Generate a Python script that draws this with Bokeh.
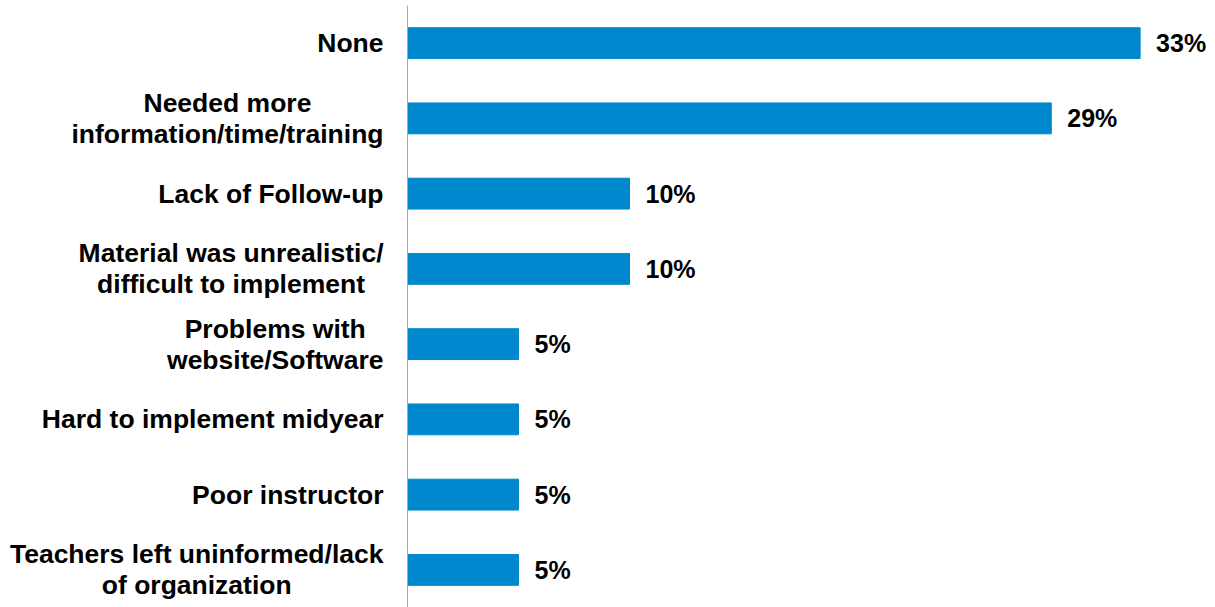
from bokeh.plotting import figure
from bokeh.models import ColumnDataSource, Range1d, FactorRange, Span
from bokeh.core.properties import value
from bokeh.embed import file_html
from bokeh.resources import INLINE

categories = [
    "None",
    "Needed more\ninformation/time/training",
    "Lack of Follow-up",
    "Material was unrealistic/\ndifficult to implement",
    "Problems with\nwebsite/Software",
    "Hard to implement midyear",
    "Poor instructor",
    "Teachers left uninformed/lack\nof organization",
]
values = [33, 29, 10, 10, 5, 5, 5, 5]
value_labels = [f"{v}%" for v in values]

source = ColumnDataSource(dict(cat=categories, val=values, lab=value_labels,
                               zero=[0] * len(values)))

PX_PER_UNIT = 22.2
AXIS_PX = 407
W, H = 1215, 607

p = figure(
    y_range=FactorRange(factors=categories[::-1]),
    x_range=Range1d(-AXIS_PX / PX_PER_UNIT, (W - AXIS_PX) / PX_PER_UNIT),
    frame_width=W, frame_height=H - 5,
    min_border_left=0, min_border_right=0, min_border_top=5, min_border_bottom=0,
    output_backend="svg", toolbar_location=None,
    x_axis_type=None, y_axis_type=None,
)
p.outline_line_color = None
p.background_fill_color = "white"
p.border_fill_color = "white"
p.grid.visible = False

p.add_layout(Span(location=0, dimension="height", line_color="#A6A6A6", line_width=1))

p.hbar(y="cat", right="val", left=0, height=0.41, source=source,
       fill_color="#0088CE", line_color="#0088CE")

p.text(x="val", y="cat", text="lab", source=source, x_offset=16,
       text_align="left", text_baseline="middle",
       text_font=value("Liberation Sans"), text_font_style="bold",
       text_font_size="25px", text_color="#000000")

p.text(x="zero", y="cat", text="cat", source=source, x_offset=-24,
       anchor="center_right", text_align="center", text_baseline="middle",
       text_line_height=1.03,
       text_font=value("Liberation Sans"), text_font_style="bold",
       text_font_size="26.5px", text_color="#000000")

open("out.html", "w").write(file_html(p, INLINE))
